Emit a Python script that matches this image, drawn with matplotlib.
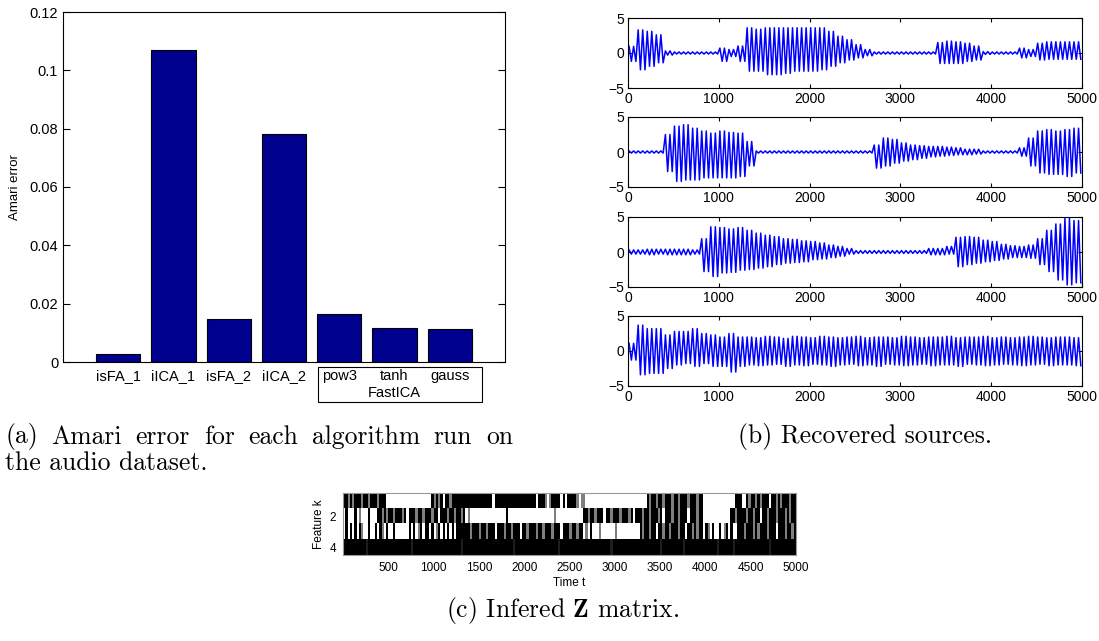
import matplotlib
matplotlib.use("Agg")
import matplotlib.pyplot as plt
import numpy as np
from matplotlib.patches import Rectangle

# --- (a) Amari error per algorithm ---
algos = ["isFA_1", "iICA_1", "isFA_2", "iICA_2", "pow3", "tanh", "gauss"]
amari = [0.0027, 0.1068, 0.0147, 0.0783, 0.0166, 0.0117, 0.0113]
amari_ticks = [0, 0.02, 0.04, 0.06, 0.08, 0.1, 0.12]
amari_tick_labels = ["0", "0.02", "0.04", "0.06", "0.08", "0.1", "0.12"]

# --- (b) recovered sources: peak envelope read per 100-sample bin ---
s1_up = [0.95, 3.3, 3.1, 2.6, 0.3, 0.15, 0.15, 0.15, 0.15, 0.15,
         0.7, 0.5, 1.0, 3.6, 3.4, 3.6, 3.6, 3.6, 3.6, 3.6,
         3.6, 3.6, 3.1, 2.4, 1.9, 1.2, 0.5, 0.15, 0.15, 0.15,
         0.15, 0.15, 0.15, 0.15, 1.5, 1.7, 1.6, 1.4, 1.0, 0.2,
         0.15, 0.15, 0.15, 0.7, 0.5, 1.4, 1.6, 1.6, 1.6, 1.6]
s1_lo = [-1.2, -2.4, -1.9, -1.4, -0.3, -0.15, -0.15, -0.15, -0.15, -0.15,
         -1.2, -0.5, -1.2, -2.6, -2.6, -3.1, -3.1, -2.9, -2.6, -2.6,
         -2.6, -2.4, -1.9, -1.4, -1.0, -0.7, -0.4, -0.15, -0.15, -0.15,
         -0.15, -0.15, -0.15, -0.15, -1.5, -1.5, -1.5, -1.2, -1.0, -0.2,
         -0.15, -0.15, -0.15, -0.7, -0.5, -1.0, -0.9, -0.9, -0.9, -0.9]
s2_up = [0.15, 0.15, 0.15, 0.15, 2.5, 3.7, 3.9, 3.4, 3.0, 2.7,
         3.0, 2.8, 2.7, 1.5, 0.15, 0.15, 0.15, 0.15, 0.15, 0.15,
         0.15, 0.15, 0.15, 0.15, 0.15, 0.15, 0.15, 1.0, 2.0, 1.8,
         1.3, 1.0, 0.9, 0.8, 0.8, 0.7, 0.6, 0.4, 0.4, 0.15,
         0.15, 0.15, 0.15, 0.6, 2.0, 3.0, 3.2, 3.0, 3.2, 3.4]
s2_lo = [-0.15, -0.15, -0.15, -0.15, -2.8, -4.2, -4.0, -4.0, -3.7, -3.7,
         -3.7, -3.7, -3.5, -2.0, -0.15, -0.15, -0.15, -0.15, -0.15, -0.15,
         -0.15, -0.15, -0.15, -0.15, -0.15, -0.15, -0.15, -2.3, -2.0, -1.6,
         -1.3, -1.1, -0.9, -0.7, -0.6, -0.5, -0.4, -0.4, -0.3, -0.15,
         -0.15, -0.15, -0.15, -0.6, -2.0, -3.0, -3.2, -3.2, -3.5, -3.0]
s3_up = [0.3, 0.3, 0.4, 0.4, 0.4, 0.4, 0.4, 0.3, 1.9, 3.6,
         3.5, 3.3, 3.5, 3.1, 2.7, 2.4, 2.2, 1.9, 1.8, 1.6,
         1.5, 1.3, 1.0, 0.8, 0.5, 0.2, 0.2, 0.2, 0.2, 0.2,
         0.2, 0.2, 0.2, 0.5, 0.5, 0.8, 2.1, 2.2, 2.1, 1.7,
         1.5, 1.1, 0.9, 0.8, 1.0, 1.9, 3.1, 4.0, 4.8, 4.5]
s3_lo = [-0.3, -0.3, -0.4, -0.3, -0.4, -0.4, -0.4, -0.3, -2.8, -3.5,
         -3.0, -2.9, -2.6, -2.5, -2.3, -2.1, -1.8, -1.6, -1.5, -1.4,
         -1.1, -1.0, -0.8, -0.6, -0.3, -0.2, -0.2, -0.2, -0.2, -0.2,
         -0.2, -0.2, -0.2, -0.4, -0.4, -0.3, -2.1, -1.8, -1.6, -1.4,
         -1.2, -1.0, -0.8, -0.8, -0.9, -1.8, -2.8, -4.0, -4.7, -4.4]
s4_up = [1.1, 3.7, 3.2, 3.2, 2.3, 2.8, 2.8, 3.2, 2.5, 2.3,
         2.0, 2.5, 2.0, 2.0, 1.9, 2.1, 2.0, 1.8, 2.1, 2.0,
         1.9, 2.1, 2.0, 1.9, 2.0, 2.1, 1.9, 2.0, 2.0, 1.9,
         2.1, 2.0, 1.9, 2.0, 2.0, 2.1, 1.9, 2.0, 2.0, 2.1,
         1.9, 2.0, 1.9, 2.0, 2.1, 2.0, 1.9, 2.0, 2.0, 1.9]
s4_lo = [-1.3, -3.4, -3.2, -3.2, -2.5, -2.0, -1.8, -2.2, -1.8, -2.2,
         -2.2, -3.0, -2.2, -2.0, -2.1, -2.0, -1.9, -2.2, -2.0, -2.1,
         -1.9, -2.0, -2.2, -2.0, -1.9, -2.1, -2.0, -2.2, -1.9, -2.0,
         -2.1, -2.0, -1.9, -2.1, -2.0, -2.0, -2.2, -1.9, -2.0, -2.1,
         -2.0, -1.9, -2.0, -2.1, -2.0, -1.9, -2.1, -2.0, -2.0, -2.1]
sources = [(s1_up, s1_lo), (s2_up, s2_lo), (s3_up, s3_lo), (s4_up, s4_lo)]
bin_len = 100

# --- (c) inferred Z matrix, 25-sample columns ('#' on, '.' off, '+'/'-' mixed) ---
z_row1 = ["##+#+", "###+#", "#+###", "+###.", ".....", ".....", ".....", "....#",
          "+#+#.", "##+##", "#####", "#####", "#####", "#.###", "#####", "#####",
          "#####", ".###+", ".+###", "#.#.#", "###+.", "++...", ".....", ".....",
          ".....", ".....", "....#", "+##+#", "#+###", "+##+#", "##+##", "#+##.",
          ".....", ".....", "...##", "#..#+", "##+#+", "###.#", "#+#+#", "##+##"]
z_row2 = [".#...", "#.+..", ".#...", "##+#+", "##+##", "#+#.#", "##+##", "+###+",
          "##.##", "#+##+", "##+#.", "+....", ".....", ".....", "..#..", ".....",
          ".....", ".....", "...+.", ".....", ".....", ".##+#", "#+###", ".##+#",
          "##+##", "#+#.#", "##+##", "+###+", "#.###", "+##+#", "##.##", "#+##.",
          ".....", ".....", ".##+#", "###+#", "#+##.", "##+##", "#+###", "+#+##"]
z_row3 = [".#.#.", "#.#+.", ".#..#", ".#+.#", "..#..", "....#", ".#.+#", ".##.#",
          ".+#.#", ".#.#.", "#####", "#+###", "+##+#", "##.##", "#+##+", "###.#",
          "#+###", "+##+#", "##+##", "#.###", "+##+#", "#.+.#", "...+.", ".....",
          "+....", ".....", ".#+##", "+##.#", "#+##+", "###+#", "#.##+", "#+##.",
          "#+.#.", ".#.+#", ".#..#", "##+##", "#+#+#", "##+##", "#.###", "+##+#"]
z_row4 = ["#####", "#####", "-####", "#####", "#####", "#####", "-####", "#####",
          "#####", "#####", "##-##", "#####", "#####", "#####", "#####", "-####",
          "#####", "#####", "#####", "-####", "#####", "#####", "#####", "###-#",
          "#####", "#####", "#####", "#####", "-####", "#####", "-####", "#####",
          "#####", "-####", "##-##", "#####", "#####", "###-#", "#####", "#####"]
z_rows = [z_row1, z_row2, z_row3, z_row4]

W, H = 1099, 641
plt.rcParams["font.family"] = ["Liberation Sans", "DejaVu Sans"]
plt.rcParams["mathtext.fontset"] = "cm"
fig = plt.figure(figsize=(W / 100, H / 100), dpi=100)


def px_axes(l, t, r, b):
    return fig.add_axes([l / W, 1 - b / H, (r - l) / W, (b - t) / H])


# (a) bar chart
ax = px_axes(63, 12, 505, 362)
xpos = np.arange(1, len(algos) + 1)
ax.bar(xpos, amari, width=0.8, color=(0, 0, 0.5625), edgecolor="black", linewidth=0.8)
ax.set_xlim(0, 8)
ax.set_ylim(0, 0.12)
ax.set_yticks(amari_ticks)
ax.set_yticklabels(amari_tick_labels)
ax.set_xticks(xpos)
ax.set_xticklabels(algos)
ax.tick_params(axis="y", direction="in", right=True, length=5, labelsize=10.5)
ax.tick_params(axis="x", length=0, labelsize=10.5, pad=5)
ax.set_ylabel("Amari error", fontsize=9.5, labelpad=6)
x0 = (318 - 63) / 442 * 8
x1 = (482 - 63) / 442 * 8
ax.add_patch(Rectangle((x0, -0.114), x1 - x0, 0.1, transform=ax.get_xaxis_transform(),
                       fill=False, edgecolor="black", linewidth=0.8, clip_on=False))
ax.text(6.0, -0.089, "FastICA", transform=ax.get_xaxis_transform(),
        ha="center", va="center", fontsize=10.5)

# (b) recovered sources
tops = [18, 117, 217, 316]
offsets = [12, 37, 62, 87]
for (up, lo), t in zip(sources, tops):
    a = px_axes(628, t, 1082, t + 70)
    xs, ys = [], []
    for i in range(len(up)):
        xs += [i * bin_len + o for o in offsets]
        ys += [up[i], lo[i], up[i], lo[i]]
    a.plot(xs, ys, color="#0000ff", linewidth=1.1)
    a.set_xlim(0, 5000)
    a.set_ylim(-5, 5)
    a.set_yticks([-5, 0, 5])
    a.set_xticks(np.arange(0, 5001, 1000))
    a.tick_params(direction="in", top=True, right=True, length=3, labelsize=10, pad=3)

# (c) Z matrix
az = px_axes(343, 493, 796, 555)
lvl = {"#": 1.0, ".": 0.0, "+": 0.5, "-": 0.88}
Z = np.array([[lvl[c] for c in "".join(r)] for r in z_rows])
az.imshow(Z, cmap="gray_r", vmin=0, vmax=1, aspect="auto", interpolation="nearest",
          extent=(0, 5000, 4.5, 0.5))
az.set_xticks(np.arange(500, 5001, 500))
az.set_yticks([2, 4])
az.tick_params(length=0, labelsize=8.5, pad=5)
az.set_xlabel("Time t", fontsize=8.5, labelpad=2)
az.set_ylabel("Feature k", fontsize=8.5, labelpad=3)
for s in az.spines.values():
    s.set_color("#999999")

# captions (line 1 of (a) is justified like the LaTeX original)
cap = dict(fontsize=18.5, family="cmr10", va="center")
line1 = "(a) Amari error for each algorithm run on".split()
words = [fig.text(0, 1 - 437 / H, w, ha="left", **cap) for w in line1]
renderer = fig.canvas.get_renderer()
widths = [t.get_window_extent(renderer).width for t in words]
gap = (513 - 5 - sum(widths)) / (len(words) - 1)
xcur = 5
for t, w in zip(words, widths):
    t.set_x(xcur / W)
    xcur += w + gap
fig.text(5 / W, 1 - 463 / H, "the audio dataset.", ha="left", **cap)
fig.text(865 / W, 1 - 437 / H, "(b) Recovered sources.", ha="center", **cap)
fig.text(563 / W, 1 - 611 / H, r"(c) Infered $\mathbf{Z}$ matrix.", ha="center", **cap)

fig.savefig("out.png", dpi=100)
